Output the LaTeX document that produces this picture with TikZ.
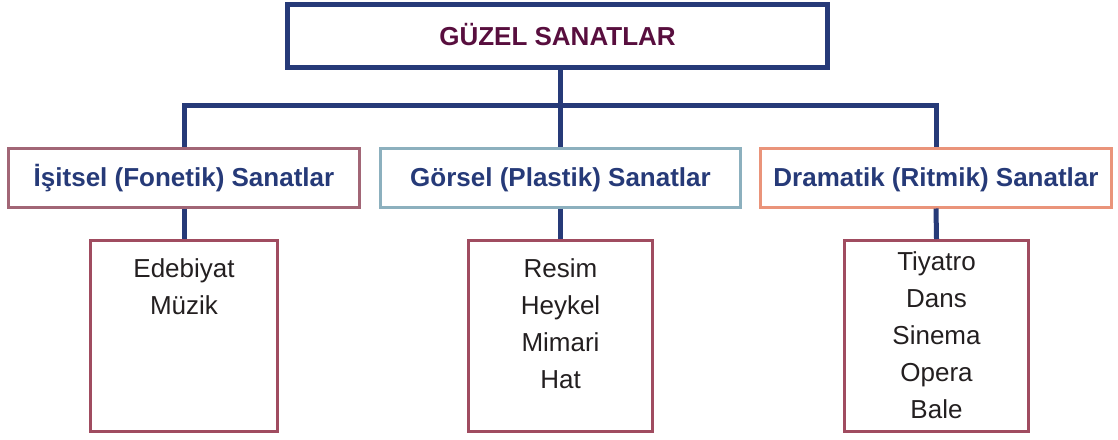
\documentclass[tikz,border=0pt]{standalone}
\usepackage{fontspec}
\setmainfont{Liberation Sans}
\definecolor{navy}{RGB}{38,58,120}
\definecolor{titlecol}{RGB}{88,14,62}
\definecolor{mauve}{RGB}{162,102,118}
\definecolor{bluegray}{RGB}{140,176,190}
\definecolor{salmon}{RGB}{234,148,122}
\definecolor{boxred}{RGB}{160,76,96}
\definecolor{txt}{RGB}{35,31,32}
\begin{document}
\begin{tikzpicture}[x=1pt,y=-1pt,
  topbox/.style={draw=navy,line width=5pt,rectangle,minimum width=540pt,minimum height=63pt,inner sep=0pt,
    text height=18.6pt,text depth=0pt,
    font=\fontsize{26}{31}\selectfont\bfseries,text=titlecol},
  headbox/.style={draw=#1,line width=3pt,rectangle,minimum height=59pt,inner sep=0pt,
    text height=18.6pt,text depth=0pt,
    font=\fontsize{26}{31}\selectfont\bfseries,text=navy},
  listbox/.style={draw=boxred,line width=3pt,rectangle,minimum height=191pt,inner sep=0pt},
  listtext/.style={anchor=north,align=center,inner sep=0pt,text=txt,font=\fontsize{26}{37}\selectfont},
  conn/.style={draw=navy,line width=5pt}]
\useasboundingbox (0,0) rectangle (1118,439);
\node[topbox] (top) at (557.5,36) {GÜZEL SANATLAR};
\node[headbox=mauve,minimum width=351pt] (h1) at (184,177.5) {İşitsel (Fonetik) Sanatlar};
\node[headbox=bluegray,minimum width=360pt] (h2) at (560.5,177.5) {Görsel (Plastik) Sanatlar};
\node[headbox=salmon,minimum width=351pt] (h3) at (936,177.5) {Dramatik (Ritmik) Sanatlar};
\node[listbox,minimum width=187pt] (b1) at (184,336) {};
\node[listbox,minimum width=184pt] (b2) at (560.5,336) {};
\node[listbox,minimum width=184pt] (b3) at (936.5,336) {};
\node[listtext] (t1) at ([yshift=-12pt]b1.north) {\strut Edebiyat\\Müzik};
\node[listtext] (t2) at ([yshift=-12pt]b2.north) {\strut Resim\\Heykel\\Mimari\\Hat};
\node[listtext] (t3) at ([yshift=-5pt]b3.north) {\strut Tiyatro\\Dans\\Sinema\\Opera\\Bale};
\coordinate (bar) at (560,105);
\draw[conn] (h1.north) |- (bar) -| (h3.north);
\draw[conn] (top.south -| h2.north) -- (h2.north);
\draw[conn] (h1.south) -- (b1.north);
\draw[conn] (h2.south) -- (b2.north);
\draw[conn] (h3.south) -- (b3.north);
\end{tikzpicture}
\end{document}
